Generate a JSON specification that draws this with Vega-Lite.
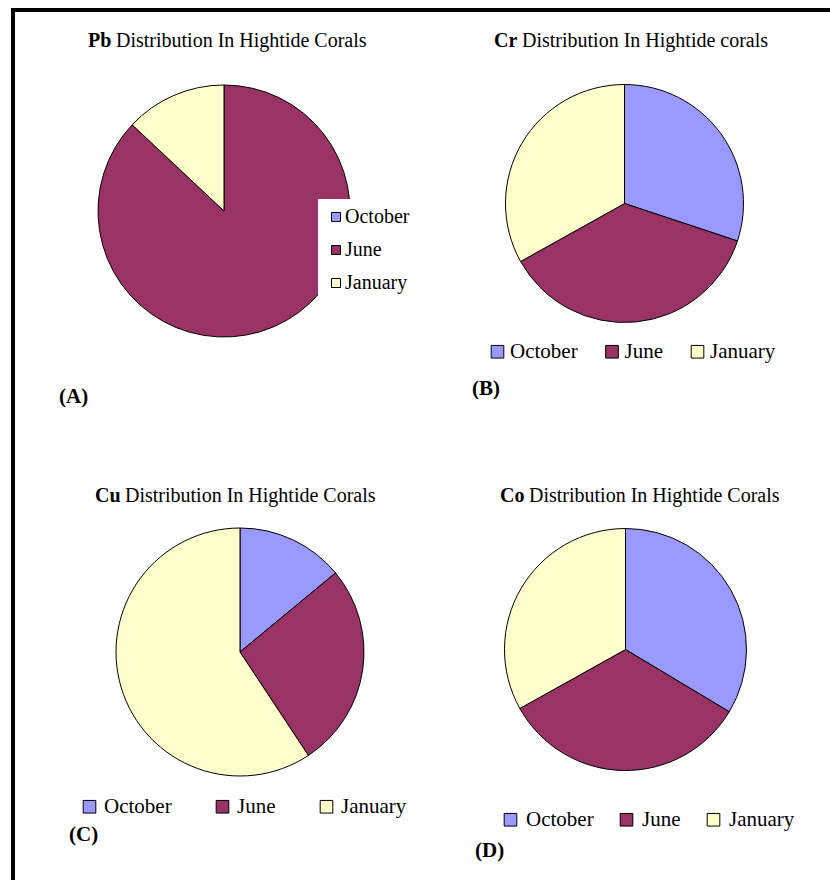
{
  "$schema": "https://vega.github.io/schema/vega-lite/v6.json",
  "background": "white",
  "padding": {"left": 11, "top": 8, "right": 0, "bottom": 0},
  "config": {
    "view": {"stroke": null},
    "font": "Liberation Serif",
    "title": {"font": "Liberation Serif", "color": "black", "fontSize": 20, "fontWeight": "normal"},
    "legend": {
      "title": null,
      "labelFont": "Liberation Serif",
      "labelFontSize": 21,
      "labelColor": "black",
      "symbolType": "square",
      "symbolSize": 160,
      "symbolStrokeColor": "black",
      "symbolStrokeWidth": 1,
      "symbolOpacity": 1,
      "padding": 0
    }
  },
  "datasets": {
    "pb": [
      {"month": "October", "share": 0},
      {"month": "June", "share": 87},
      {"month": "January", "share": 13}
    ],
    "cr": [
      {"month": "October", "share": 30.1},
      {"month": "June", "share": 36.8},
      {"month": "January", "share": 33.1}
    ],
    "cu": [
      {"month": "October", "share": 14.0},
      {"month": "June", "share": 26.7},
      {"month": "January", "share": 59.3}
    ],
    "co": [
      {"month": "October", "share": 33.6},
      {"month": "June", "share": 33.3},
      {"month": "January", "share": 33.1}
    ]
  },
  "spacing": 0,
  "resolve": {"scale": {"color": "independent"}, "legend": {"color": "independent"}},
  "hconcat": [
    {
      "width": 4,
      "height": 880,
      "view": {"fill": "black", "stroke": null},
      "data": {"values": []},
      "mark": "point",
      "encoding": {}
    },
    {
      "spacing": 19,
      "resolve": {"scale": {"color": "independent"}, "legend": {"color": "independent"}},
      "vconcat": [
        {
          "width": 815,
          "height": 4,
          "view": {"fill": "black", "stroke": null},
          "data": {"values": []},
          "mark": "point",
          "encoding": {}
        },
        {
          "spacing": 79,
          "resolve": {"scale": {"color": "independent"}, "legend": {"color": "independent"}},
          "vconcat": [
            {
              "spacing": 0,
              "resolve": {"scale": {"color": "independent"}, "legend": {"color": "independent"}},
              "hconcat": [
                {
                  "title": {"text": "Pb", "fontWeight": "bold", "anchor": "start", "dx": 73, "offset": -20},
                  "resolve": {"scale": {"color": "independent"}, "legend": {"color": "independent"}},
                  "vconcat": [
                    {
                      "title": {"text": "Distribution In Hightide Corals", "anchor": "start", "dx": 101, "offset": 19},
                      "resolve": {"scale": {"color": "independent"}, "legend": {"color": "independent"}},
                      "vconcat": [
                        {
                          "width": 418,
                          "height": 282,
                          "data": {"name": "pb"},
                          "title": {"text": "(A)", "orient": "bottom", "anchor": "start", "dx": 44, "offset": 34, "fontWeight": "bold", "fontSize": 21},
                          "mark": {"type": "arc", "outerRadius": 126, "stroke": "black", "strokeWidth": 1},
                          "encoding": {
                            "theta": {"field": "share", "type": "quantitative", "stack": true},
                            "order": {"field": "month", "sort": "descending"},
                            "color": {
                              "field": "month", "type": "nominal",
                              "scale": {"domain": ["October", "June", "January"], "range": ["#9999FF", "#993366", "#FFFFCC"]},
                              "legend": {"orient": "none", "legendX": 303, "legendY": 129, "direction": "vertical", "fillColor": "white", "padding": 8, "symbolSize": 81, "labelFont": "Liberation Serif", "labelFontSize": 20, "labelOffset": -1, "rowPadding": 13}
                            }
                          }
                        }
                      ]
                    }
                  ]
                },
                {
                  "title": {"text": "Cr", "fontWeight": "bold", "anchor": "start", "dx": 61, "offset": -20},
                  "resolve": {"scale": {"color": "independent"}, "legend": {"color": "independent"}},
                  "vconcat": [
                    {
                      "title": {"text": "Distribution In Hightide corals", "anchor": "start", "dx": 89, "offset": 19},
                      "resolve": {"scale": {"color": "independent"}, "legend": {"color": "independent"}},
                      "vconcat": [
                        {
                          "width": 383,
                          "height": 267,
                          "data": {"name": "cr"},
                          "title": {"text": "(B)", "orient": "bottom", "anchor": "start", "dx": 39, "offset": 16, "fontWeight": "bold", "fontSize": 21},
                          "mark": {"type": "arc", "outerRadius": 119, "stroke": "black", "strokeWidth": 1},
                          "encoding": {
                            "theta": {"field": "share", "type": "quantitative", "stack": true},
                            "order": {"field": "month", "sort": "descending"},
                            "color": {
                              "field": "month", "type": "nominal",
                              "scale": {"domain": ["October", "June", "January"], "range": ["#9999FF", "#993366", "#FFFFCC"]},
                              "legend": {"orient": "none", "legendX": 54, "legendY": 271, "direction": "horizontal", "labelFont": "Liberation Serif", "labelOffset": 2, "columnPadding": 23.5}
                            }
                          }
                        }
                      ]
                    }
                  ]
                }
              ]
            },
            {
              "spacing": 0,
              "resolve": {"scale": {"color": "independent"}, "legend": {"color": "independent"}},
              "hconcat": [
                {
                  "title": {"text": "Cu", "fontWeight": "bold", "anchor": "start", "dx": 80, "offset": -20},
                  "resolve": {"scale": {"color": "independent"}, "legend": {"color": "independent"}},
                  "vconcat": [
                    {
                      "title": {"text": "Distribution In Hightide Corals", "anchor": "start", "dx": 110, "offset": 15},
                      "resolve": {"scale": {"color": "independent"}, "legend": {"color": "independent"}},
                      "vconcat": [
                        {
                          "width": 450,
                          "height": 262,
                          "data": {"name": "cu"},
                          "title": {"text": "(C)", "orient": "bottom", "anchor": "start", "dx": 54, "offset": 7, "fontWeight": "bold", "fontSize": 21},
                          "mark": {"type": "arc", "outerRadius": 124, "stroke": "black", "strokeWidth": 1},
                          "encoding": {
                            "theta": {"field": "share", "type": "quantitative", "stack": true},
                            "order": {"field": "month", "sort": "descending"},
                            "color": {
                              "field": "month", "type": "nominal",
                              "scale": {"domain": ["October", "June", "January"], "range": ["#9999FF", "#993366", "#FFFFCC"]},
                              "legend": {"orient": "none", "legendX": 64, "legendY": 275, "direction": "horizontal", "labelFont": "Liberation Serif", "labelOffset": 4, "columnPadding": 40}
                            }
                          }
                        }
                      ]
                    }
                  ]
                },
                {
                  "title": {"text": "Co", "fontWeight": "bold", "anchor": "start", "dx": 35, "offset": -20},
                  "resolve": {"scale": {"color": "independent"}, "legend": {"color": "independent"}},
                  "vconcat": [
                    {
                      "title": {"text": "Distribution In Hightide Corals", "anchor": "start", "dx": 64, "offset": 15},
                      "resolve": {"scale": {"color": "independent"}, "legend": {"color": "independent"}},
                      "vconcat": [
                        {
                          "width": 321,
                          "height": 257,
                          "data": {"name": "co"},
                          "title": {"text": "(D)", "orient": "bottom", "anchor": "start", "dx": 10, "offset": 10, "fontWeight": "bold", "fontSize": 21},
                          "mark": {"type": "arc", "outerRadius": 121, "stroke": "black", "strokeWidth": 1},
                          "encoding": {
                            "theta": {"field": "share", "type": "quantitative", "stack": true},
                            "order": {"field": "month", "sort": "descending"},
                            "color": {
                              "field": "month", "type": "nominal",
                              "scale": {"domain": ["October", "June", "January"], "range": ["#9999FF", "#993366", "#FFFFCC"]},
                              "legend": {"orient": "none", "legendX": 35, "legendY": 288, "direction": "horizontal", "labelFont": "Liberation Serif", "labelOffset": 5, "columnPadding": 22}
                            }
                          }
                        }
                      ]
                    }
                  ]
                }
              ]
            }
          ]
        }
      ]
    }
  ]
}
